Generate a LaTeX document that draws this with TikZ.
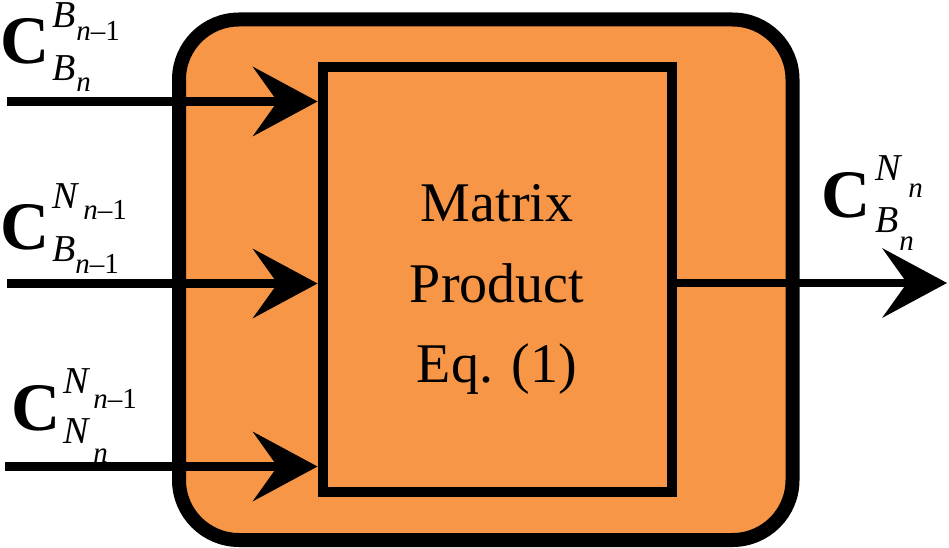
\documentclass[tikz,border=0pt]{standalone}
\usepackage{fontspec}
\setmainfont{Liberation Serif}
\usetikzlibrary{arrows.meta}
\definecolor{boxorange}{RGB}{247,150,70}
\newcommand\Cbig{{\fontsize{68}{68}\selectfont\bfseries C}}
\newcommand\scA[1]{{\fontsize{38}{38}\selectfont\itshape #1}}
\newcommand\scB[1]{{\fontsize{29}{29}\selectfont\itshape #1}}
\newcommand\mone{{\upshape –1}}
\begin{document}
\begin{tikzpicture}[x=1pt,y=-1pt,
  outerbox/.style={draw=black,line width=14pt,fill=boxorange,rounded corners=60pt,minimum width=613.5pt,minimum height=520.5pt,inner sep=0pt},
  innerbox/.style={draw=black,line width=10pt,fill=boxorange,minimum width=349.5pt,minimum height=425pt,inner sep=0pt},
  flow/.style={line width=8.5pt,-{Stealth[length=65pt,width=70pt,inset=25pt,line width=0pt]}},
  lbl/.style={anchor=base west,inner sep=0pt,outer sep=0pt}]
\useasboundingbox (0,0) rectangle (949,548);
\node[outerbox] (outer) at (485.75,279.75) {};
\node[innerbox] (inner) at (497.25,279.5) {};
\node[font=\fontsize{56}{80.5}\selectfont, align=center, inner sep=0pt] (mp) at (497,289.5) {Matrix\\Product\\Eq. (1)};
\coordinate (in1) at (7,101.5);
\coordinate (in2) at (7,283.5);
\coordinate (in3) at (5,466.5);
\coordinate (out) at (947,283);
\draw[flow] (in1) -- (in1 -| inner.west);
\draw[flow] (in2) -- (in2 -| inner.west);
\draw[flow] (in3) -- (in3 -| inner.west);
\draw[flow] (inner.east |- out) -- (out);
\node[lbl] (l1) at (0,64) {\Cbig\hspace{3pt}\makebox[0pt][l]{\raisebox{36pt}{\scA{B}\hspace{1pt}\raisebox{-13pt}{\scB{n\mone}}}}\raisebox{-17pt}{\scA{B}\hspace{1pt}\raisebox{-11pt}{\scB{n}}}};
\node[lbl] (l2) at (0,249) {\Cbig\hspace{3pt}\makebox[0pt][l]{\raisebox{41pt}{\scA{N}\hspace{6pt}\raisebox{-11pt}{\scB{n\mone}}}}\raisebox{-12pt}{\scA{B}\raisebox{-12pt}{\scB{n\mone}}}};
\node[lbl] (l3) at (11,430) {\Cbig\hspace{3pt}\makebox[0pt][l]{\raisebox{37pt}{\scA{N}\hspace{5pt}\raisebox{-15pt}{\scB{n\mone}}}}\raisebox{-13pt}{\scA{N}\hspace{5pt}\raisebox{-19pt}{\scB{n}}}};
\node[lbl] (l4) at (821,217) {\Cbig\hspace{5pt}\makebox[0pt][l]{\raisebox{37pt}{\scA{N}\hspace{8pt}\raisebox{-17pt}{\scB{n}}}}\raisebox{-15pt}{\scA{B}\hspace{1pt}\raisebox{-18pt}{\scB{n}}}};
\end{tikzpicture}
\end{document}
